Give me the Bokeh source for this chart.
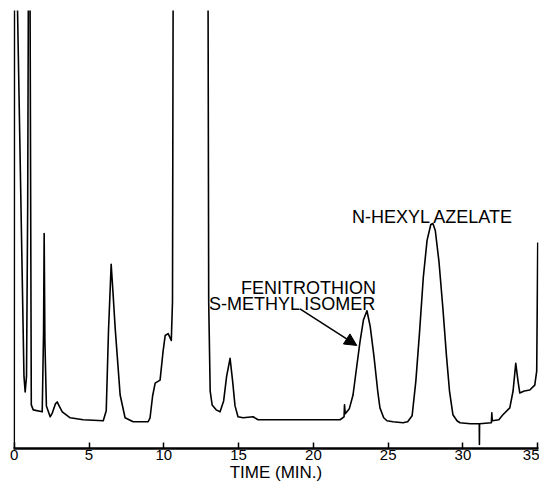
from bokeh.plotting import figure
from bokeh.models import Range1d, Arrow, NormalHead, FixedTicker, Label
from bokeh.embed import file_html
from bokeh.resources import INLINE

# --- chromatogram trace (time in min, response in arbitrary units) ---
solvent_t = [0.00, 0.02, 0.15, 0.22, 0.65, 0.73, 0.82, 0.90, 0.94, 0.97, 1.02, 1.06, 1.14, 1.27, 1.87,
             1.96, 2.00, 2.05, 2.15, 2.40, 2.55, 2.75, 2.87, 3.00, 3.21, 3.74, 4.61, 5.95]
solvent_r = [0, 800, 800, 444, 75, 59, 75, 250, 440, 800, 800, 440, 46, 41, 39,
             120, 219, 110, 45, 34, 38, 47, 49, 45, 39, 33, 31, 30]

early_t = [6.15, 6.30, 6.48, 6.60, 6.75, 7.08, 7.41, 7.95, 8.95, 9.08, 9.25, 9.42, 9.75, 9.95, 10.09,
           10.29, 10.50, 10.58, 10.62, 10.70, 12.90, 12.96, 13.00, 13.10, 13.23, 13.50, 13.76, 14.00,
           14.20, 14.43, 14.60, 14.76, 14.96, 15.30, 15.97, 16.30, 18.00, 21.78]
early_r = [40, 120, 188, 160, 123, 56, 33, 29, 29, 33, 55, 68, 71, 100, 116,
           118, 111, 150, 440, 800, 800, 440, 150, 60, 46, 41, 39, 50,
           75, 93, 70, 45, 34, 33, 34, 31, 31, 31]

fenitrothion_t = [22.05, 22.08, 22.13, 22.40, 22.65, 22.90, 23.11, 23.35, 23.58, 23.80, 24.05, 24.30,
                  24.45, 24.70, 24.92, 25.32, 25.99]
fenitrothion_r = [34, 46, 37, 42, 56, 85, 109, 132, 141, 125, 95, 60,
                  43, 33, 30, 29, 28]

azelate_t = [26.30, 26.60, 26.85, 27.10, 27.35, 27.60, 27.85, 27.99, 28.15, 28.40, 28.66, 28.90,
             29.10, 29.33, 29.60, 29.80, 30.50]
azelate_r = [29, 35, 70, 120, 175, 212, 228, 229, 222, 190, 143, 95,
             60, 36, 30, 28, 27]

tail_t = [31.09, 31.10, 31.11, 31.90, 31.93, 31.96, 32.40, 32.67, 33.13, 33.35, 33.53, 33.68, 33.80,
          34.10, 34.47, 34.80, 34.93, 35.00]
tail_r = [27, 6, 27, 28, 38, 30, 31, 36, 43, 60, 88, 70, 58,
          60, 61, 66, 80, 210]

time_min = solvent_t + early_t + fenitrothion_t + azelate_t + tail_t
response = solvent_r + early_r + fenitrothion_r + azelate_r + tail_r

tick_values = [0, 5, 10, 15, 20, 25, 30, 35]
x_title = "TIME (MIN.)"
label_fen_1 = "FENITROTHION"
label_fen_2 = "S-METHYL ISOMER"
label_aze = "N-HEXYL AZELATE"

FONT = "Liberation Sans"

p = figure(width=539, height=484, output_backend="svg", toolbar_location=None,
           x_range=Range1d(-0.05, 35.05), y_range=Range1d(2, 444),
           min_border_left=13, min_border_right=1, min_border_top=10, min_border_bottom=0)
p.outline_line_color = None
p.xgrid.visible = False
p.ygrid.visible = False
p.yaxis.visible = False
p.background_fill_color = "white"
p.border_fill_color = "white"

p.line(time_min, response, line_color="black", line_width=1.6, line_join="round")

ax = p.xaxis[0]
ax.ticker = FixedTicker(ticks=tick_values)
ax.axis_line_width = 2.5
ax.axis_line_color = "black"
ax.major_tick_in = 6
ax.major_tick_out = 0
ax.major_tick_line_width = 1.5
ax.minor_tick_line_color = None
ax.major_label_text_font = FONT
ax.major_label_text_font_size = "15px"
ax.major_label_text_color = "black"
ax.major_label_standoff = 1
ax.axis_label = x_title
ax.axis_label_text_font = FONT
ax.axis_label_text_font_size = "17px"
ax.axis_label_text_font_style = "normal"
ax.axis_label_text_color = "black"
ax.axis_label_standoff = 0

for txt, x, y, align in [(label_fen_1, 24.18, 164, "right"),
                         (label_fen_2, 24.18, 148, "right"),
                         (label_aze, 22.58, 236, "left")]:
    p.add_layout(Label(x=x, y=y, text=txt, text_align=align, text_baseline="alphabetic",
                       text_font=FONT, text_font_size="18px", text_color="black"))

p.add_layout(Arrow(end=NormalHead(size=12, fill_color="black", line_color="black"),
                   x_start=19.1, y_start=143, x_end=22.9, y_end=106,
                   line_color="black", line_width=1.5))

open("out.html", "w").write(file_html(p, INLINE))
